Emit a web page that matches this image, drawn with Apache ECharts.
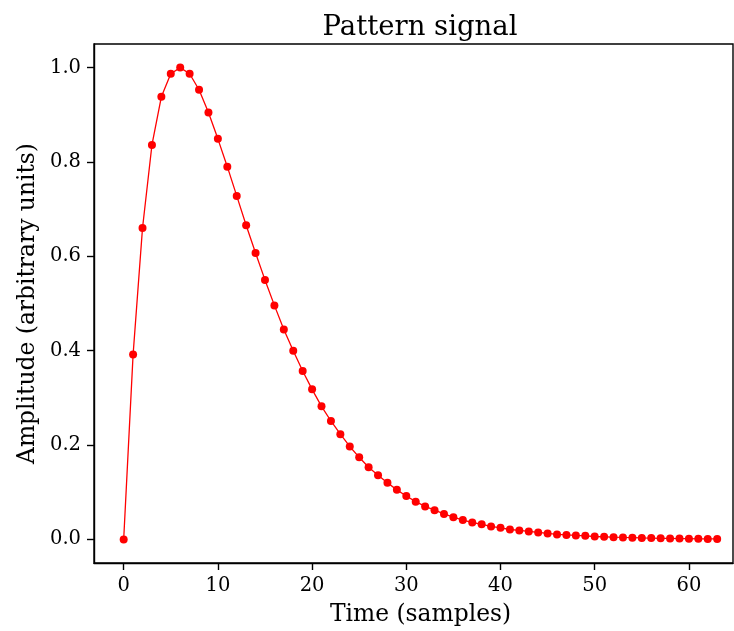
<!DOCTYPE html>
<html><head><meta charset="utf-8">
<script src="https://cdn.jsdelivr.net/npm/echarts@6/dist/echarts.min.js"></script>
<style>html,body{margin:0;padding:0;background:#fff}#c{width:734px;height:631px}</style>
</head><body><div id="c"></div>
<script>
const timeSamples = [0,1,2,3,4,5,6,7,8,9,10,11,12,13,14,15,16,17,18,19,20,21,22,23,24,25,26,27,28,29,30,31,32,33,34,35,36,37,38,39,40,41,42,43,44,45,46,47,48,49,50,51,52,53,54,55,56,57,58,59,60,61,62,63];
const amplitude = [0.0,0.392,0.660,0.836,0.938,0.987,1.0,0.987,0.953,0.905,0.849,0.790,0.728,0.666,0.607,0.550,0.496,0.445,0.400,0.357,0.318,0.282,0.251,0.223,0.197,0.174,0.153,0.136,0.120,0.105,0.092,0.080,0.070,0.062,0.054,0.047,0.041,0.036,0.032,0.0275,0.0245,0.021,0.019,0.017,0.0148,0.0127,0.0106,0.0095,0.0085,0.0075,0.0062,0.0055,0.0048,0.0042,0.0037,0.0032,0.0028,0.0024,0.0021,0.0018,0.0016,0.0013,0.0011,0.001];
const xTicks = [0,10,20,30,40,50,60];
const yTicks = [0.0,0.2,0.4,0.6,0.8,1.0];
const FONT = '"DejaVu Serif", serif';
const chart = echarts.init(document.getElementById('c'), null, {renderer:'canvas'});
chart.setOption({
  animation:false,
  title:{text:'Pattern signal', left:415, textAlign:'center', top:9, textStyle:{fontFamily:FONT,fontWeight:'normal',fontSize:27.5,color:'#000'}},
  grid:{left:94, right:1, top:44, bottom:65, show:true, borderColor:'#000', borderWidth:1.4, backgroundColor:'transparent'},
  xAxis:{type:'value', min:-3.15, max:64.68,
    name:'Time (samples)', nameLocation:'middle', nameGap:40,
    nameTextStyle:{fontFamily:FONT,fontSize:23.4,color:'#000',padding:[0,0,0,14]},
    axisLine:{show:true,onZero:false,lineStyle:{color:'#000',width:1.4}},
    axisTick:{show:true,length:7,lineStyle:{color:'#000',width:1.4},customValues:xTicks},
    axisLabel:{fontFamily:FONT,fontSize:19.5,color:'#000',margin:13,
      customValues:xTicks, formatter:v=>String(v)},
    splitLine:{show:false}},
  yAxis:{type:'value', min:-0.05, max:1.05,
    name:'Amplitude (arbitrary units)', nameLocation:'middle', nameGap:50,
    nameTextStyle:{fontFamily:FONT,fontSize:23.4,color:'#000'},
    axisLine:{show:true,onZero:false,lineStyle:{color:'#000',width:1.4}},
    axisTick:{show:true,length:7,lineStyle:{color:'#000',width:1.4},customValues:yTicks},
    axisLabel:{fontFamily:FONT,fontSize:19.5,color:'#000',margin:13,
      customValues:yTicks, formatter:v=>v.toFixed(1)},
    splitLine:{show:false}},
  series:[{type:'line', data:timeSamples.map((t,i)=>[t,amplitude[i]]),
    lineStyle:{color:'#ff0000',width:1.3}, itemStyle:{color:'#ff0000'},
    symbol:'circle', symbolSize:8, showSymbol:true, clip:false}]
});
</script></body></html>
